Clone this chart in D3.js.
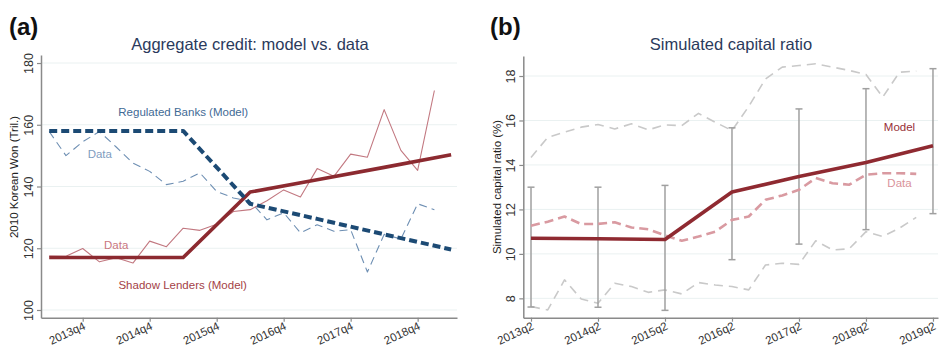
<!DOCTYPE html>
<html>
<head>
<meta charset="utf-8">
<script src="https://cdn.jsdelivr.net/npm/d3@7"></script>
<style>
  body { margin: 0; background: #fff; }
  svg { font-family: "Liberation Sans", Arial, Helvetica, sans-serif; }
</style>
</head>
<body>
<script>
// quarters used by both panels (2013q2 .. 2019q2)
const quarters = []
for (let y = 2013; y <= 2019; y++) for (let q = 1; q <= 4; q++) quarters.push(y + 'q' + q)
const qi = s => quarters.indexOf(s) - quarters.indexOf('2013q2')

// panel (a) data
const ticksA = ['2013q4', '2014q4', '2015q4', '2016q4', '2017q4', '2018q4']
const yTicksA = [100, 120, 140, 160, 180]
const modelQuarters = ['2013q2', '2014q2', '2015q2', '2016q2', '2017q2', '2018q2', '2019q2']
const regModel = [158, 158, 158, 134.4, 129.5, 124.5, 119.6]
const shadowModel = [117, 117, 117, 138.2, 142.2, 146.2, 150.3]
const dataQuarters = ['2013q2', '2013q3', '2013q4', '2014q1', '2014q2', '2014q3', '2014q4', '2015q1',
  '2015q2', '2015q3', '2015q4', '2016q1', '2016q2', '2016q3', '2016q4', '2017q1', '2017q2', '2017q3',
  '2017q4', '2018q1', '2018q2', '2018q3', '2018q4', '2019q1']
const regData = [157.8, 150, 154.5, 157.8, 152.8, 147.6, 144.9, 140.6, 141.7, 144.4, 138.4, 136.3,
  135.2, 129.2, 131.5, 125, 127.6, 125.5, 126, 112.3, 124.5, 123, 134.4, 132.5]
const shadowData = [117.5, 117.4, 119.9, 115.6, 116.9, 115.2, 122.3, 120.5, 126.5, 125.8, 127.8, 131.9,
  132.5, 135.4, 138.9, 136.6, 145.8, 143.3, 150.5, 149.5, 164.9, 151.7, 145.2, 171.1]

// panel (b) data
const ticksB = ['2013q2', '2014q2', '2015q2', '2016q2', '2017q2', '2018q2', '2019q2']
const yTicksB = [8, 10, 12, 14, 16, 18]
const capModel = [10.7, 10.68, 10.65, 12.78, 13.48, 14.11, 14.86]
const ciHigh = [13.0, 13.0, 13.08, 15.67, 16.52, 17.43, 18.33]
const ciLow = [7.61, 7.6, 7.46, 9.74, 10.44, 11.09, 11.81]
const capData = [11.27, 11.45, 11.68, 11.34, 11.35, 11.42, 11.19, 11.11, 10.83, 10.59, 10.78, 11.0,
  11.53, 11.68, 12.43, 12.63, 12.88, 13.41, 13.18, 13.11, 13.56, 13.63, 13.63, 13.6]
const capUpper = [14.34, 15.24, 15.47, 15.7, 15.82, 15.62, 15.85, 15.58, 15.8, 15.77, 16.32, 15.92,
  15.55, 16.63, 17.87, 18.4, 18.47, 18.55, 18.4, 18.25, 18.07, 17.05, 18.17, 18.22]
const capLower = [7.63, 7.48, 8.83, 7.97, 7.78, 8.68, 8.53, 8.27, 8.38, 8.2, 8.71, 8.6,
  8.53, 8.38, 9.5, 9.58, 9.53, 10.59, 10.18, 10.23, 11.0, 10.78, 11.16, 11.64]

const W = 939, H = 350
const svg = d3.select('body').append('svg').attr('width', W).attr('height', H)

const axisCol = '#8a8a8a'
const gridCol = '#eaf1f1'

function panel(o) {
  const g = svg.append('g')
  const x = d3.scaleLinear().domain(o.xDom).range(o.xRange)
  const y = d3.scaleLinear().domain(o.yDom).range([o.bottom, o.top])

  // grid
  g.selectAll('.grid').data(o.yTicks).enter().append('line')
    .attr('x1', o.xRange[0]).attr('x2', o.xRange[1])
    .attr('y1', d => y(d)).attr('y2', d => y(d))
    .attr('stroke', gridCol).attr('stroke-width', 1)

  // y axis
  const ya = g.append('g').attr('transform', `translate(${o.xRange[0]},0)`)
    .call(d3.axisLeft(y).tickValues(o.yTicks).tickSize(4).tickSizeOuter(0))
  ya.select('.domain').attr('stroke', axisCol).attr('stroke-width', 1.5)
  ya.selectAll('.tick line').attr('stroke', axisCol).attr('stroke-width', 1.2)
  ya.selectAll('.tick text')
    .attr('font-size', 12.5).attr('fill', '#333')
    .attr('text-anchor', 'middle')
    .attr('x', 0).attr('dy', 0)
    .attr('transform', 'translate(-8,0) rotate(-90)')

  // x axis
  const xa = g.append('g').attr('transform', `translate(0,${o.bottom})`)
    .call(d3.axisBottom(x).tickValues(o.xTicks.map(qi)).tickFormat(d => quarters[d + quarters.indexOf('2013q2')])
      .tickSize(4).tickSizeOuter(0))
  xa.select('.domain').attr('stroke', axisCol).attr('stroke-width', 1.5)
  xa.selectAll('.tick line').attr('stroke', axisCol).attr('stroke-width', 1.2)
  xa.selectAll('.tick text')
    .attr('font-size', 11.5).attr('fill', '#333')
    .attr('text-anchor', 'end')
    .attr('y', 0).attr('dy', 0)
    .attr('transform', 'translate(3,11) rotate(-25)')

  // title
  svg.append('text').attr('x', o.titleX).attr('y', 50)
    .attr('text-anchor', 'middle').attr('font-size', 16.5).attr('fill', '#2b3a5c')
    .text(o.title)
  svg.append('text').attr('x', o.tagX).attr('y', 35)
    .attr('font-size', 24).attr('font-weight', 'bold').attr('fill', '#111')
    .text(o.tag)
  svg.append('text')
    .attr('transform', `translate(${o.yLabX},${o.yLabY}) rotate(-90)`)
    .attr('text-anchor', 'middle').attr('font-size', o.yLabSize).attr('fill', '#222')
    .text(o.yLab)

  return { g, x, y }
}

function drawLine(p, xs, ys, style) {
  const line = d3.line().x(d => p.x(d[0])).y(d => p.y(d[1]))
  p.g.append('path')
    .datum(xs.map((q, i) => [qi(q), ys[i]]))
    .attr('d', line)
    .attr('fill', 'none')
    .attr('stroke', style.color)
    .attr('stroke-width', style.width)
    .attr('stroke-dasharray', style.dash || null)
    .attr('stroke-linejoin', 'round')
}

function label(p, xq, yv, txt, color) {
  p.g.append('text').attr('x', p.x(xq)).attr('y', p.y(yv))
    .attr('text-anchor', 'middle').attr('font-size', 11.5).attr('fill', color)
    .text(txt)
}

// ---- panel (a)
const pa = panel({
  xDom: [-0.49, 24.35], xRange: [41, 457],
  yDom: [97.5, 182.6], top: 55, bottom: 317.7,
  yTicks: yTicksA, xTicks: ticksA,
  title: 'Aggregate credit: model vs. data', titleX: 250,
  tag: '(a)', tagX: 9,
  yLab: '2010 Korean Won (Tril.)', yLabX: 18, yLabY: 177, yLabSize: 11.5
})
drawLine(pa, dataQuarters, regData, { color: '#6e8fb3', width: 1.1, dash: '8,5' })
drawLine(pa, dataQuarters, shadowData, { color: '#c27880', width: 1.1 })
drawLine(pa, modelQuarters, shadowModel, { color: '#8c2a30', width: 3.6 })
drawLine(pa, modelQuarters, regModel, { color: '#1c4a74', width: 4, dash: '8,4' })
label(pa, 8, 162.8, 'Regulated Banks (Model)', '#3f6a95')
label(pa, 3.02, 149.3, 'Data', '#7f9dc0')
label(pa, 4.0, 119.7, 'Data', '#c9777f')
label(pa, 7.97, 106.8, 'Shadow Lenders (Model)', '#a43f47')

// ---- panel (b)
const pb = panel({
  xDom: [-0.46, 24.3], xRange: [523.3, 938],
  yDom: [7.13, 18.9], top: 56, bottom: 317.7,
  yTicks: yTicksB, xTicks: ticksB,
  title: 'Simulated capital ratio', titleX: 731,
  tag: '(b)', tagX: 490,
  yLab: 'Simulated capital ratio (%)', yLabX: 501, yLabY: 187, yLabSize: 11.5
})
drawLine(pb, dataQuarters, capUpper, { color: '#c9c9c9', width: 1.6, dash: '9,6' })
drawLine(pb, dataQuarters, capLower, { color: '#c9c9c9', width: 1.6, dash: '9,6' })

// confidence bars
const bars = pb.g.append('g')
modelQuarters.forEach((q, i) => {
  const cx = pb.x(qi(q))
  bars.append('line').attr('x1', cx).attr('x2', cx)
    .attr('y1', pb.y(ciLow[i])).attr('y2', pb.y(ciHigh[i]))
    .attr('stroke', '#a0a0a0').attr('stroke-width', 1.5)
  ;[ciLow[i], ciHigh[i]].forEach(v => {
    bars.append('line').attr('x1', cx - 3.5).attr('x2', cx + 3.5)
      .attr('y1', pb.y(v)).attr('y2', pb.y(v))
      .attr('stroke', '#a0a0a0').attr('stroke-width', 1.5)
  })
})
drawLine(pb, dataQuarters, capData, { color: '#d99aa1', width: 2.6, dash: '9,5' })
drawLine(pb, modelQuarters, capModel, { color: '#8f2a31', width: 3.6 })
label(pb, 22.0, 15.52, 'Model', '#982f37')
label(pb, 22.0, 13.0, 'Data', '#d9939b')
</script>
</body>
</html>
